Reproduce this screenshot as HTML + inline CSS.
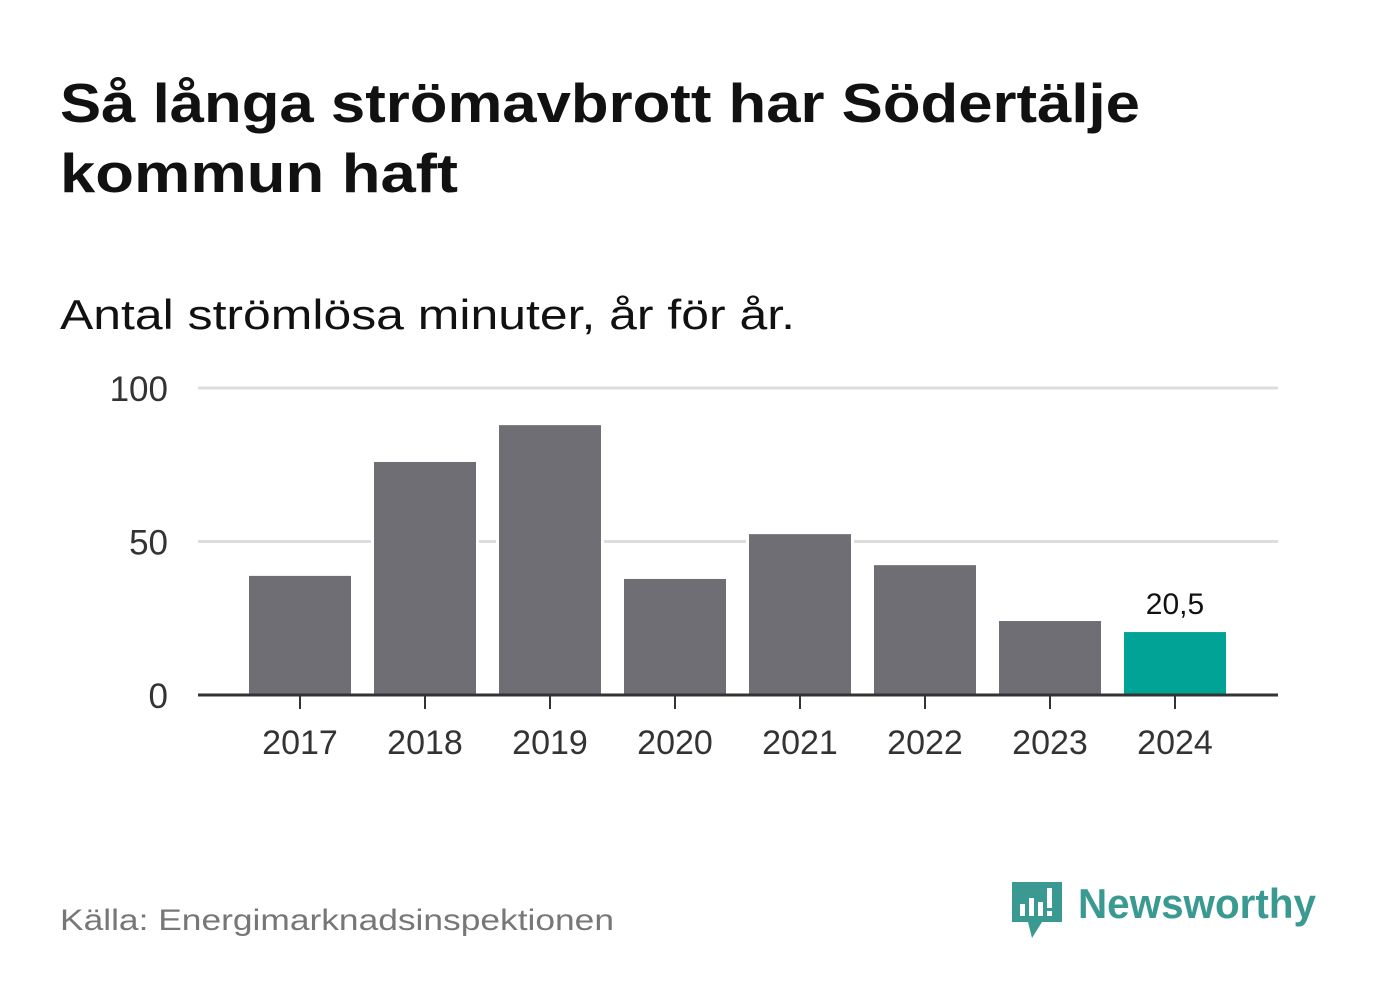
<!DOCTYPE html>
<html><head><meta charset="utf-8"><style>
body{margin:0;background:#fff;width:1382px;height:999px;overflow:hidden;font-family:"Liberation Sans","DejaVu Sans",sans-serif;}
</style></head><body>
<svg width="1382" height="999">
<text x="60" y="122" font-size="55" font-weight="bold" fill="#111" textLength="1080" lengthAdjust="spacingAndGlyphs">Så långa strömavbrott har Södertälje</text>
<text x="60" y="192" font-size="55" font-weight="bold" fill="#111" textLength="398" lengthAdjust="spacingAndGlyphs">kommun haft</text>
<text x="60" y="329" font-size="42" fill="#111" textLength="735" lengthAdjust="spacingAndGlyphs">Antal strömlösa minuter, år för år.</text>
<g id="grid"></g><g id="bars"></g><g id="axis"></g>
<text x="60" y="930" font-size="30" fill="#777" textLength="554" lengthAdjust="spacingAndGlyphs">Källa: Energimarknadsinspektionen</text>
<g>
<path d="M1012 882h50v40h-20l-10 16l-4-16h-16z" fill="#3a9a92"/>
<rect x="1020" y="904" width="5" height="12" fill="#fff"/><rect x="1029" y="898" width="5" height="18" fill="#fff"/><rect x="1038" y="902" width="5" height="14" fill="#fff"/><rect x="1047" y="888" width="5" height="20" fill="#fff"/><rect x="1047" y="911" width="5" height="5" fill="#fff"/>
<text x="1078" y="918" font-size="42" font-weight="bold" fill="#3a9a92" textLength="238" lengthAdjust="spacingAndGlyphs">Newsworthy</text>
</g>
</svg>
<script>
const years=["2017","2018","2019","2020","2021","2022","2023","2024"];
const values=[38.8,75.9,87.9,37.8,52.4,42.3,24.1,20.5];
const yTicks=[0,50,100];
const labelText="20,5";
const ns="http://www.w3.org/2000/svg";
const y0=695,yScale=3.07,x0=300,step=125,bw=102;
const Y=v=>y0-v*yScale, X=i=>x0+i*step;
function mk(t,a,p){const e=document.createElementNS(ns,t);for(const k in a)e.setAttribute(k,a[k]);p.appendChild(e);return e;}
const g=document.getElementById('grid'),b=document.getElementById('bars'),ax=document.getElementById('axis');
yTicks.forEach(t=>{
 if(t>0){const l=mk('line',{x1:198,x2:1278,y1:Y(t),y2:Y(t),stroke:'#ddd','stroke-width':3},g);
 
 }
 const tx=mk('text',{x:168,y:Y(t)+13,'font-size':35,fill:'#333','text-anchor':'end'},g);tx.textContent=t;
 
 
});
values.forEach((v,i)=>{
 const last=i===values.length-1;
 const r=mk('rect',{x:X(i)-bw/2,y:Y(v),width:bw,height:y0-Y(v),fill:last?'#00a396':'#6f6e74',stroke:'#fff','stroke-width':6,'paint-order':'stroke'},b);
 
 
 const tk=mk('line',{x1:X(i),x2:X(i),y1:y0,y2:y0+14,stroke:'#333','stroke-width':2},ax);
 
 
 const tx=mk('text',{x:X(i),y:y0+59,'font-size':34,fill:'#333','text-anchor':'middle'},ax);tx.textContent=years[i];
 
 
 if(last){const lb=mk('text',{x:X(i),y:Y(v)-18,'font-size':30,fill:'#111','text-anchor':'middle'},b);lb.textContent=labelText;
 
 }
});
const base=mk('line',{x1:198,x2:1278,y1:y0,y2:y0,stroke:'#333','stroke-width':3},ax);


</script>
</body></html>
